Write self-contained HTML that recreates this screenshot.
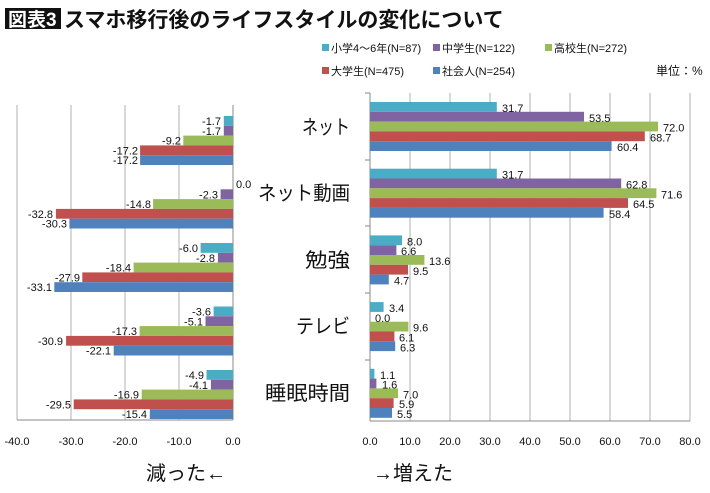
<!DOCTYPE html>
<html><head><meta charset="utf-8"><style>
body{margin:0;background:#fff;width:710px;height:493px;overflow:hidden}
svg{display:block}
text{font-family:"Liberation Sans","Noto Sans CJK JP",sans-serif}
.n{font-size:11px;fill:#111}
.c{font-size:20px;fill:#111}
.t{font-size:11px;fill:#111}
</style></head><body>
<svg width="710" height="493" viewBox="0 0 710 493" xmlns="http://www.w3.org/2000/svg">
<rect x="5" y="8" width="56" height="21" fill="#111"/>
<text x="8" y="26" font-size="19" fill="#fff" font-weight="bold">図表3</text>
<text x="64" y="27" font-size="21" fill="#111" font-weight="bold">スマホ移行後のライフスタイルの変化について</text>
<g class="n">
<rect x="322" y="44" width="7" height="7" fill="#4bacc6"/><text x="331" y="52">小学4～6年(N=87)</text>
<rect x="433" y="44" width="7" height="7" fill="#8064a2"/><text x="442" y="52">中学生(N=122)</text>
<rect x="545" y="44" width="7" height="7" fill="#9bbb59"/><text x="554" y="52">高校生(N=272)</text>
<rect x="322" y="67" width="7" height="7" fill="#c0504d"/><text x="331" y="75">大学生(N=475)</text>
<rect x="433" y="67" width="7" height="7" fill="#4f81bd"/><text x="442" y="75">社会人(N=254)</text>
<text x="656" y="75" font-size="12">単位：%</text>
</g>
<g stroke="#b0b0b0" stroke-width="1">
<line x1="17" y1="105" x2="17" y2="420"/><line x1="71" y1="105" x2="71" y2="420"/><line x1="125" y1="105" x2="125" y2="420"/><line x1="179" y1="105" x2="179" y2="420"/>
<line x1="410" y1="93" x2="410" y2="421"/><line x1="450" y1="93" x2="450" y2="421"/><line x1="490" y1="93" x2="490" y2="421"/><line x1="530" y1="93" x2="530" y2="421"/><line x1="570" y1="93" x2="570" y2="421"/><line x1="610" y1="93" x2="610" y2="421"/><line x1="650" y1="93" x2="650" y2="421"/><line x1="690" y1="93" x2="690" y2="421"/>
</g>
<g stroke="#888" stroke-width="1">
<line x1="233" y1="105" x2="233" y2="420"/><line x1="17" y1="420" x2="233" y2="420"/>
<line x1="370" y1="93" x2="370" y2="421"/><line x1="370" y1="421" x2="690" y2="421"/>
<line x1="365" y1="93" x2="370" y2="93"/><line x1="365" y1="160" x2="370" y2="160"/><line x1="365" y1="226" x2="370" y2="226"/><line x1="365" y1="293" x2="370" y2="293"/><line x1="365" y1="360" x2="370" y2="360"/>
</g>
<g>
<rect x="223.8" y="116" width="9.2" height="9.8" fill="#4bacc6"/><rect x="223.8" y="125.8" width="9.2" height="9.8" fill="#8064a2"/><rect x="183.3" y="135.6" width="49.7" height="9.8" fill="#9bbb59"/><rect x="140.1" y="145.4" width="92.9" height="9.8" fill="#c0504d"/><rect x="140.1" y="155.2" width="92.9" height="9.8" fill="#4f81bd"/>
<rect x="220.6" y="189.3" width="12.4" height="9.8" fill="#8064a2"/><rect x="153.1" y="199.1" width="79.9" height="9.8" fill="#9bbb59"/><rect x="55.9" y="208.9" width="177.1" height="9.8" fill="#c0504d"/><rect x="69.4" y="218.7" width="163.6" height="9.8" fill="#4f81bd"/>
<rect x="200.6" y="243" width="32.4" height="9.8" fill="#4bacc6"/><rect x="217.9" y="252.8" width="15.1" height="9.8" fill="#8064a2"/><rect x="133.6" y="262.6" width="99.4" height="9.8" fill="#9bbb59"/><rect x="82.3" y="272.4" width="150.7" height="9.8" fill="#c0504d"/><rect x="54.3" y="282.2" width="178.7" height="9.8" fill="#4f81bd"/>
<rect x="213.6" y="306.5" width="19.4" height="9.8" fill="#4bacc6"/><rect x="205.5" y="316.3" width="27.5" height="9.8" fill="#8064a2"/><rect x="139.6" y="326.1" width="93.4" height="9.8" fill="#9bbb59"/><rect x="66.1" y="335.9" width="166.9" height="9.8" fill="#c0504d"/><rect x="113.7" y="345.7" width="119.3" height="9.8" fill="#4f81bd"/>
<rect x="206.5" y="370" width="26.5" height="9.8" fill="#4bacc6"/><rect x="210.9" y="379.8" width="22.1" height="9.8" fill="#8064a2"/><rect x="141.7" y="389.6" width="91.3" height="9.8" fill="#9bbb59"/><rect x="73.7" y="399.4" width="159.3" height="9.8" fill="#c0504d"/><rect x="149.8" y="409.2" width="83.2" height="9.8" fill="#4f81bd"/>
</g>
<g class="n" text-anchor="end">
<text x="221" y="125">-1.7</text><text x="221" y="134.8">-1.7</text><text x="181" y="144.6">-9.2</text><text x="138" y="154.4">-17.2</text><text x="138" y="164.2">-17.2</text>
<text x="218" y="198.3">-2.3</text><text x="151" y="208.1">-14.8</text><text x="53" y="217.9">-32.8</text><text x="67" y="227.7">-30.3</text>
<text x="198" y="252">-6.0</text><text x="215" y="261.8">-2.8</text><text x="131" y="271.6">-18.4</text><text x="80" y="281.4">-27.9</text><text x="52" y="291.2">-33.1</text>
<text x="211" y="315.5">-3.6</text><text x="203" y="325.3">-5.1</text><text x="137" y="335.1">-17.3</text><text x="63" y="344.9">-30.9</text><text x="111" y="354.7">-22.1</text>
<text x="204" y="379">-4.9</text><text x="208" y="388.8">-4.1</text><text x="139" y="398.6">-16.9</text><text x="71" y="408.4">-29.5</text><text x="147" y="418.2">-15.4</text>
</g>
<text class="n" x="236" y="188">0.0</text>
<g>
<rect x="370" y="102" width="126.8" height="9.8" fill="#4bacc6"/><rect x="370" y="111.8" width="214" height="9.8" fill="#8064a2"/><rect x="370" y="121.6" width="288" height="9.8" fill="#9bbb59"/><rect x="370" y="131.4" width="274.8" height="9.8" fill="#c0504d"/><rect x="370" y="141.2" width="241.6" height="9.8" fill="#4f81bd"/>
<rect x="370" y="168.7" width="126.8" height="9.8" fill="#4bacc6"/><rect x="370" y="178.5" width="251.2" height="9.8" fill="#8064a2"/><rect x="370" y="188.3" width="286.4" height="9.8" fill="#9bbb59"/><rect x="370" y="198.1" width="258" height="9.8" fill="#c0504d"/><rect x="370" y="207.9" width="233.6" height="9.8" fill="#4f81bd"/>
<rect x="370" y="235.4" width="32" height="9.8" fill="#4bacc6"/><rect x="370" y="245.2" width="26.4" height="9.8" fill="#8064a2"/><rect x="370" y="255" width="54.4" height="9.8" fill="#9bbb59"/><rect x="370" y="264.8" width="38" height="9.8" fill="#c0504d"/><rect x="370" y="274.6" width="18.8" height="9.8" fill="#4f81bd"/>
<rect x="370" y="302.1" width="13.6" height="9.8" fill="#4bacc6"/><rect x="370" y="321.7" width="38.4" height="9.8" fill="#9bbb59"/><rect x="370" y="331.5" width="24.4" height="9.8" fill="#c0504d"/><rect x="370" y="341.3" width="25.2" height="9.8" fill="#4f81bd"/>
<rect x="370" y="368.8" width="4.4" height="9.8" fill="#4bacc6"/><rect x="370" y="378.6" width="6.4" height="9.8" fill="#8064a2"/><rect x="370" y="388.4" width="28" height="9.8" fill="#9bbb59"/><rect x="370" y="398.2" width="23.6" height="9.8" fill="#c0504d"/><rect x="370" y="408" width="22" height="9.8" fill="#4f81bd"/>
</g>
<g class="n">
<text x="502" y="112">31.7</text><text x="589" y="121.8">53.5</text><text x="663" y="131.6">72.0</text><text x="650" y="141.4">68.7</text><text x="617" y="151.2">60.4</text>
<text x="502" y="178.7">31.7</text><text x="626" y="188.5">62.8</text><text x="661" y="198.3">71.6</text><text x="633" y="208.1">64.5</text><text x="609" y="217.9">58.4</text>
<text x="407" y="245.4">8.0</text><text x="401" y="255.2">6.6</text><text x="429" y="265">13.6</text><text x="413" y="274.8">9.5</text><text x="394" y="284.6">4.7</text>
<text x="389" y="312.1">3.4</text><text x="375" y="321.9">0.0</text><text x="413" y="331.7">9.6</text><text x="399" y="341.5">6.1</text><text x="400" y="351.3">6.3</text>
<text x="380" y="378.8">1.1</text><text x="382" y="388.6">1.6</text><text x="403" y="398.4">7.0</text><text x="399" y="408.2">5.9</text><text x="397" y="418">5.5</text>
</g>
<g class="c">
<text x="302" y="134" textLength="48" lengthAdjust="spacingAndGlyphs">ネット</text>
<text x="258" y="200" textLength="92" lengthAdjust="spacingAndGlyphs">ネット動画</text>
<text x="305" y="267" textLength="45" lengthAdjust="spacingAndGlyphs">勉強</text>
<text x="296" y="333" textLength="54" lengthAdjust="spacingAndGlyphs">テレビ</text>
<text x="265" y="400" textLength="85" lengthAdjust="spacingAndGlyphs">睡眠時間</text>
</g>
<g class="t" text-anchor="middle">
<text x="17" y="445">-40.0</text><text x="71" y="445">-30.0</text><text x="125" y="445">-20.0</text><text x="179" y="445">-10.0</text><text x="233" y="445">0.0</text>
<text x="370" y="445">0.0</text><text x="410" y="445">10.0</text><text x="450" y="445">20.0</text><text x="490" y="445">30.0</text><text x="530" y="445">40.0</text><text x="570" y="445">50.0</text><text x="610" y="445">60.0</text><text x="650" y="445">70.0</text><text x="690" y="445">80.0</text>
</g>
<text x="146" y="480" font-size="20" fill="#111">減った←</text>
<text x="373" y="480" font-size="20" fill="#111">→増えた</text>
</svg>
</body></html>
